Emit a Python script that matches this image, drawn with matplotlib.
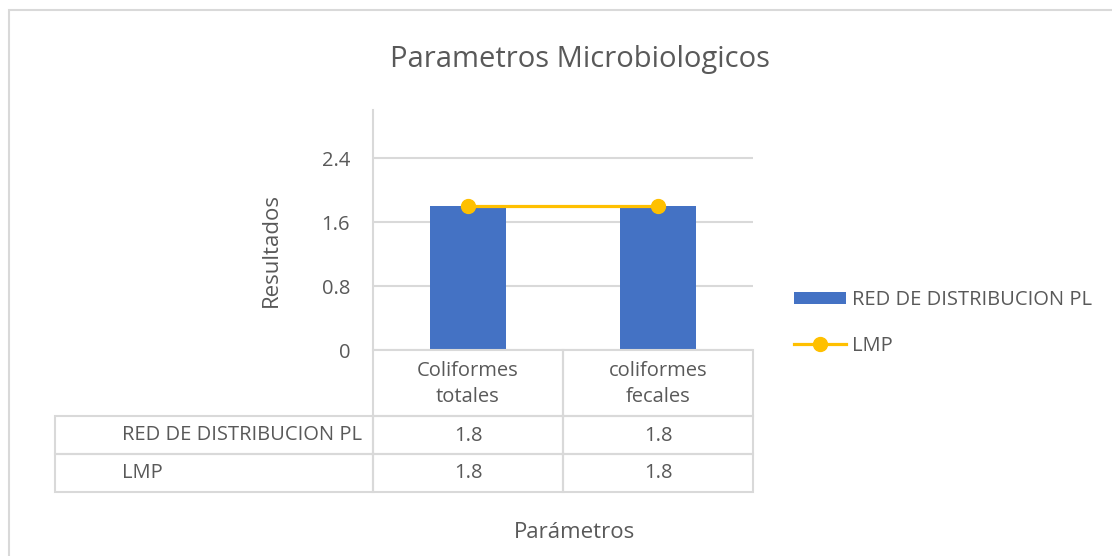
import matplotlib
matplotlib.use('Agg')
import matplotlib.pyplot as plt
from matplotlib.patches import Rectangle

plt.rcParams['font.family'] = ['Open Sans', 'DejaVu Sans']

# data
categories = ['Coliformes\ntotales', 'coliformes\nfecales']
series_names = ['RED DE DISTRIBUCION PL', 'LMP']
red_values = [1.8, 1.8]
lmp_values = [1.8, 1.8]
y_ticks = [0, 0.8, 1.6, 2.4]

bar_color = '#4472C4'
line_color = '#FFC000'
text_color = '#595959'
grid_color = '#D9D9D9'
fs = 14.5

W, H = 1112, 556
fig = plt.figure(figsize=(W / 100, H / 100), dpi=100)


def px_axes(x0, y0, x1, y1):
    # pixel box (top-left origin) -> figure axes
    return fig.add_axes([x0 / W, 1 - y1 / H, (x1 - x0) / W, (y1 - y0) / H])


# outer chart border
fig.patches.append(Rectangle((9 / W, -0.1), 1.2, 1 - 10 / H + 0.1, transform=fig.transFigure,
                             fill=False, edgecolor=grid_color, linewidth=1.5))

# main plot
ax = px_axes(373, 110, 753, 350)
x = range(len(categories))
bars = ax.bar(x, red_values, width=0.4, color=bar_color, zorder=2, label=series_names[0])
line, = ax.plot(x, lmp_values, color=line_color, linewidth=2.3, marker='o', markersize=10,
                zorder=3, label=series_names[1])
ax.set_xlim(-0.5, len(categories) - 0.5)
ax.set_ylim(0, 3.0)
ax.set_yticks(y_ticks)
ax.set_yticklabels(['0', '0.8', '1.6', '2.4'])
ax.set_xticks([])
ax.grid(axis='y', color=grid_color, linewidth=1.5, zorder=0)
for s in ['top', 'right', 'bottom']:
    ax.spines[s].set_visible(False)
ax.spines['left'].set_color(grid_color)
ax.spines['left'].set_linewidth(1.5)
ax.tick_params(axis='y', length=0, pad=16.5, labelsize=fs, labelcolor=text_color)
ax.set_ylabel('Resultados', fontsize=16, color=text_color)
ax.yaxis.set_label_coords((282 - 373) / 380, 100 / 240)

# data table below the plot (row label column + one column per category)
col_w = [318, 190, 190]
row_h = [66, 37.5, 38]
tax = px_axes(55, 350, 55 + sum(col_w), 350 + sum(row_h))
tax.set_xlim(0, sum(col_w))
tax.set_ylim(sum(row_h), 0)
tax.axis('off')

lefts = [sum(col_w[:k]) for k in range(len(col_w))]
tops = [sum(row_h[:k]) for k in range(len(row_h))]
rows = [[''] + categories] + [[n] + [str(v) for v in vals]
                              for n, vals in zip(series_names, [red_values, lmp_values])]
for i, row in enumerate(rows):
    for j, txt in enumerate(row):
        if i == 0 and j == 0:
            continue
        tax.add_patch(Rectangle((lefts[j], tops[i]), col_w[j], row_h[i], fill=False,
                                edgecolor=grid_color, linewidth=1.5, clip_on=False))
        if j == 0:
            tax.text(lefts[j] + 67, tops[i] + row_h[i] / 2, txt, ha='left', va='center',
                     fontsize=fs, color=text_color)
        else:
            tax.text(lefts[j] + col_w[j] / 2, tops[i] + row_h[i] / 2 + 1, txt, ha='center',
                     va='center', fontsize=fs, color=text_color, linespacing=1.4)

fig.text(580 / W, 1 - 59 / H, 'Parametros Microbiologicos', ha='center', va='center',
         fontsize=21, color=text_color)
fig.text(575 / W, 1 - 532 / H, 'Parámetros', ha='center', va='center',
         fontsize=16, color=text_color)

fig.legend([bars, line], series_names, loc='upper left', bbox_to_anchor=(794 / W, 1 - 290 / H),
           frameon=False, fontsize=fs, labelcolor=text_color, handlelength=2.6,
           handleheight=0.6, handletextpad=0.3, labelspacing=1.3, borderaxespad=0,
           borderpad=0)

fig.savefig('out.png', dpi=100)
